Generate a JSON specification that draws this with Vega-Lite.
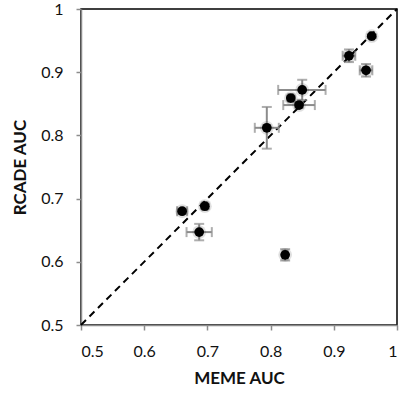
{
  "$schema": "https://vega.github.io/schema/vega-lite/v6.json",
  "width": 316,
  "height": 316,
  "autosize": {"type": "none"},
  "padding": {"left": 81, "top": 9, "right": 4, "bottom": 73},
  "background": "white",
  "config": {
    "view": {"stroke": "black", "strokeWidth": 1.5},
    "axis": {
      "grid": false,
      "domainColor": "#8c8c8c",
      "domainWidth": 1.5,
      "tickColor": "#8c8c8c",
      "tickWidth": 1.5,
      "tickSize": 5,
      "labelFont": "Lato",
      "labelFontSize": 16,
      "labelColor": "#111",
      "titleFont": "Lato",
      "titleFontSize": 17,
      "titleFontWeight": "bold",
      "titleColor": "#111"
    }
  },
  "datasets": {
    "pts": [
      {"meme": 0.960, "rcade": 0.957, "xlo": 0.957, "xhi": 0.963, "ylo": 0.954, "yhi": 0.960},
      {"meme": 0.924, "rcade": 0.926, "xlo": 0.914, "xhi": 0.934, "ylo": 0.916, "yhi": 0.936},
      {"meme": 0.951, "rcade": 0.903, "xlo": 0.941, "xhi": 0.961, "ylo": 0.893, "yhi": 0.913},
      {"meme": 0.850, "rcade": 0.872, "xlo": 0.812, "xhi": 0.887, "ylo": 0.856, "yhi": 0.888},
      {"meme": 0.832, "rcade": 0.859, "xlo": 0.828, "xhi": 0.836, "ylo": 0.855, "yhi": 0.863},
      {"meme": 0.845, "rcade": 0.848, "xlo": 0.820, "xhi": 0.870, "ylo": 0.844, "yhi": 0.852},
      {"meme": 0.794, "rcade": 0.812, "xlo": 0.775, "xhi": 0.813, "ylo": 0.779, "yhi": 0.845},
      {"meme": 0.660, "rcade": 0.680, "xlo": 0.652, "xhi": 0.668, "ylo": 0.676, "yhi": 0.684},
      {"meme": 0.696, "rcade": 0.688, "xlo": 0.692, "xhi": 0.700, "ylo": 0.684, "yhi": 0.692},
      {"meme": 0.687, "rcade": 0.647, "xlo": 0.667, "xhi": 0.707, "ylo": 0.634, "yhi": 0.660},
      {"meme": 0.823, "rcade": 0.611, "xlo": 0.819, "xhi": 0.827, "ylo": 0.602, "yhi": 0.620}
    ],
    "diag": [
      {"meme": 0.5, "rcade": 0.5},
      {"meme": 1.0, "rcade": 1.0}
    ]
  },
  "layer": [
    {
      "data": {"name": "diag"},
      "mark": {"type": "line", "color": "black", "strokeWidth": 2, "strokeDash": [7, 5]},
      "encoding": {
        "x": {"field": "meme", "type": "quantitative", "scale": {"domain": [0.5, 1]},
              "axis": {"title": "MEME AUC", "values": [0.5, 0.6, 0.7, 0.8, 0.9, 1], "format": "~g", "labelPadding": 13, "titlePadding": 11}},
        "y": {"field": "rcade", "type": "quantitative", "scale": {"domain": [0.5, 1]},
              "axis": {"title": "RCADE AUC", "values": [0.5, 0.6, 0.7, 0.8, 0.9, 1], "format": "~g", "labelPadding": 13, "titlePadding": 11}}
      }
    },
    {
      "data": {"name": "pts"},
      "mark": {"type": "rule", "color": "#8c8c8c", "strokeWidth": 2},
      "encoding": {
        "x": {"field": "xlo", "type": "quantitative"},
        "x2": {"field": "xhi"},
        "y": {"field": "rcade", "type": "quantitative"}
      }
    },
    {
      "data": {"name": "pts"},
      "mark": {"type": "rule", "color": "#8c8c8c", "strokeWidth": 2},
      "encoding": {
        "x": {"field": "meme", "type": "quantitative"},
        "y": {"field": "ylo", "type": "quantitative"},
        "y2": {"field": "yhi"}
      }
    },
    {
      "data": {"name": "pts"},
      "mark": {"type": "tick", "orient": "vertical", "color": "#8c8c8c", "size": 10, "thickness": 2},
      "encoding": {
        "x": {"field": "xlo", "type": "quantitative"},
        "y": {"field": "rcade", "type": "quantitative"}
      }
    },
    {
      "data": {"name": "pts"},
      "mark": {"type": "tick", "orient": "vertical", "color": "#8c8c8c", "size": 10, "thickness": 2},
      "encoding": {
        "x": {"field": "xhi", "type": "quantitative"},
        "y": {"field": "rcade", "type": "quantitative"}
      }
    },
    {
      "data": {"name": "pts"},
      "mark": {"type": "tick", "orient": "horizontal", "color": "#8c8c8c", "size": 10, "thickness": 2},
      "encoding": {
        "x": {"field": "meme", "type": "quantitative"},
        "y": {"field": "ylo", "type": "quantitative"}
      }
    },
    {
      "data": {"name": "pts"},
      "mark": {"type": "tick", "orient": "horizontal", "color": "#8c8c8c", "size": 10, "thickness": 2},
      "encoding": {
        "x": {"field": "meme", "type": "quantitative"},
        "y": {"field": "yhi", "type": "quantitative"}
      }
    },
    {
      "data": {"name": "pts"},
      "mark": {"type": "circle", "color": "#000", "opacity": 0.12, "size": 190, "dx": 1, "dy": 1},
      "encoding": {
        "x": {"field": "meme", "type": "quantitative"},
        "y": {"field": "rcade", "type": "quantitative"}
      }
    },
    {
      "data": {"name": "pts"},
      "mark": {"type": "circle", "color": "#000", "opacity": 1, "size": 95},
      "encoding": {
        "x": {"field": "meme", "type": "quantitative"},
        "y": {"field": "rcade", "type": "quantitative"}
      }
    }
  ]
}
